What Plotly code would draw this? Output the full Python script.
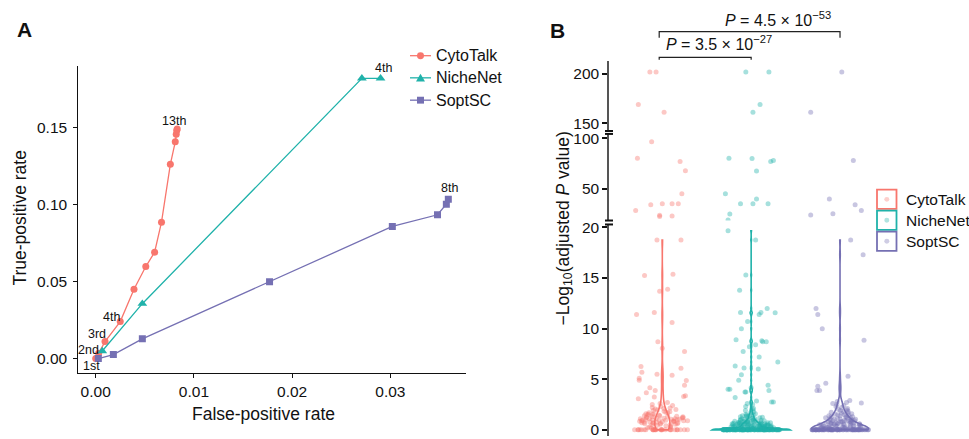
import plotly.graph_objects as go

W, H = 969, 439
OFF = 0  # page body margin is removed below
FONT = "Liberation Sans, Arial, sans-serif"

# ---------------- Panel A data (ROC-like curves) ----------------
cyto_fpr = [0.0, 0.0003, 0.00095, 0.0025, 0.0039, 0.0051, 0.0060, 0.0067, 0.0076, 0.0081, 0.0082, 0.00825, 0.0083]
cyto_tpr = [0.0, 0.0035, 0.011, 0.024, 0.045, 0.0597, 0.069, 0.0885, 0.126, 0.1406, 0.1455, 0.148, 0.149]
niche_fpr = [0.00067, 0.00475, 0.0271, 0.0290]
niche_tpr = [0.0049, 0.0356, 0.1818, 0.1818]
sopt_fpr = [0.00027, 0.0018, 0.00475, 0.0177, 0.0302, 0.0348, 0.0357, 0.0359]
sopt_tpr = [0.0, 0.0026, 0.0128, 0.0499, 0.0857, 0.0933, 0.1001, 0.1033]

x_ticks_A = [0.0, 0.01, 0.02, 0.03]
x_tick_text_A = ["0.00", "0.01", "0.02", "0.03"]
y_ticks_A = [0.0, 0.05, 0.10, 0.15]
y_tick_text_A = ["0.00", "0.05", "0.10", "0.15"]

methods = ["CytoTalk", "NicheNet", "SoptSC"]
colors = ["#F8766D", "#20B2AA", "#7570B3"]

# ---------------- Panel B data (-log10 adjusted P) ----------------
# sparse points: value and horizontal offset
cyto_hi_y = [202, 202, 169, 161.3, 96.5, 80.3, 77.1, 68.1, 45.5, 34.5, 35.5, 35.5, 35.5, 29, 24.2, 23, 23.5,
             18.76, 18.76, 15.26, 15.36, 13.7, 13.9, 11.6, 11.4, 10.6, 8.7, 8.07, 7.75, 6.27, 6.08, 5.7, 5.5,
             5.4, 5.1, 4.9, 4.87, 4.4, 4.15, 3.9, 3.66, 3.3, 3.08, 3.25, 3.37]
cyto_hi_dx = [-0.14, -0.07, -0.27, 0.02, -0.12, -0.28, 0.20, 0.26, 0.22, -0.13, 0.0, 0.11, 0.18, -0.30, -0.03, -0.03, 0.11,
              -0.06, 0.21, -0.20, 0.12, -0.03, 0.06, -0.09, -0.29, 0.11, -0.05, 0.0, 0.25, -0.24, 0.21, -0.23, -0.06,
              0.11, -0.26, -0.26, 0.27, 0.25, -0.14, -0.08, -0.18, 0.24, -0.27, -0.09, 0.26]
niche_hi_y = [202, 202, 169, 161.3, 80.3, 80, 77.1, 78, 67.7, 45.5, 35.5, 35.5, 35.5, 40.3, 25.5,
              19.67, 18.76, 15.3, 13.8, 11.6, 10.0, 10.7, 11.4, 11.6, 12.0, 11.57, 8.9, 8.2, 8.4, 8.8, 8.7, 8.7,
              7.75, 7.2, 6.7, 6.3, 6.1, 6.0, 5.45, 4.9, 4.4, 4.15, 4.0, 4.0, 3.75, 3.75, 3.9, 3.2, 2.85, 2.75, 2.75]
niche_hi_dx = [-0.06, 0.20, 0.10, 0.02, -0.25, 0.01, 0.22, 0.25, 0.06, -0.29, -0.12, 0.02, 0.19, 0.06, -0.24,
               -0.26, 0.05, -0.06, -0.13, -0.12, -0.11, -0.04, 0.09, 0.11, 0.18, 0.27, -0.17, -0.02, 0.05, 0.12, 0.13, 0.17,
               -0.09, 0.09, 0.30, -0.18, -0.08, 0.08, -0.11, -0.14, 0.19, 0.0, -0.26, -0.24, -0.07, -0.06, 0.20, -0.18, 0.06, 0.23, 0.25]
sopt_hi_y = [202, 161.3, 78, 40.3, 34.5, 29, 25.8, 24.4,
             18.76, 17.3, 12.0, 11.4, 10.0, 8.85, 5.3, 4.6, 4.3, 3.9, 3.9, 2.9, 2.65]
sopt_hi_dx = [0.02, -0.33, 0.15, -0.12, 0.17, 0.24, -0.08, -0.33,
              0.12, 0.26, -0.27, -0.25, -0.20, 0.27, 0.09, -0.16, -0.25, -0.26, -0.23, 0.11, 0.24]

# dense cluster near zero (horizontal spread drawn by the library's jitter)
cyto_low = [0, 0, 0, 0, 0, 0, 0, 0, 0, 0, 0, 0, 0, 0, 0, 0, 0, 0, 0, 0, 0, 0, 0, 0, 0, 0, 0, 0,
            0.9, 1.4, 0.6, 1.1, 2.1, 0.8, 1.7, 0.35, 1.2, 0.95, 2.4, 0.7, 1.05, 1.55, 0.5, 1.9, 0.85, 1.3,
            0.65, 2.2, 1.0, 0.45, 1.6, 0.75, 1.15, 2.6, 0.9, 1.35, 0.55, 1.8, 1.25, 0.3, 0.95, 2.0, 1.45,
            0.8, 1.1, 0.6, 1.7, 2.3, 0.4, 1.0, 1.5, 0.7, 1.2, 0.9, 2.5, 1.35, 0.25, 1.85, 0.65, 1.05, 1.6,
            0.85, 2.15, 1.15, 0.5, 1.4, 0.75, 1.95, 0.2, 1.3, 0.95, 2.7, 1.0, 0.55, 1.75, 0.8, 1.2, 0.15,
            1.5, 0.7, 2.05, 1.1, 0.9]
niche_low = [0, 0, 0, 0, 0, 0, 0, 0, 0, 0, 0, 0, 0, 0, 0, 0, 0, 0, 0, 0, 0, 0, 0, 0, 0, 0, 0, 0, 0, 0,
             0, 0, 0, 0, 0, 0, 0, 0, 0, 0, 0, 0, 0, 0, 0, 0, 0, 0, 0, 0, 0, 0, 0, 0, 0, 0, 0, 0, 0, 0,
             0, 0, 0, 0, 0, 0, 0, 0, 0, 0, 0, 0, 0, 0, 0, 0, 0, 0, 0, 0, 0, 0, 0, 0, 0, 0, 0, 0, 0, 0,
             0, 0, 0, 0, 0, 0, 0, 0, 0, 0, 0, 0, 0, 0, 0, 0, 0, 0, 0, 0, 0, 0, 0, 0, 0, 0, 0, 0, 0, 0,
             0.1, 0.6, 0.25, 1.2, 0.4, 0.8, 0.15, 1.5, 0.5, 0.3, 0.7, 1.0, 0.2, 0.45, 1.3, 0.35, 0.9, 0.6,
             0.1, 1.8, 0.55, 0.25, 0.75, 1.1, 0.4, 0.15, 0.65, 2.0, 0.3, 0.85, 0.5, 1.4, 0.2, 0.7, 0.95,
             0.35, 1.25, 0.45, 0.1, 0.6, 1.6, 0.3, 0.8, 0.55, 0.2, 1.05, 0.4, 2.3, 0.7, 0.25, 0.9, 0.5,
             1.35, 0.15, 0.65, 0.35, 1.15, 0.45, 0.75, 0.2, 1.7, 0.55, 0.3, 1.0, 0.6, 0.1, 0.85, 0.4, 2.5,
             0.5, 1.2, 0.25, 0.7, 0.35, 1.45, 0.6, 0.15, 0.95, 0.45, 0.3, 1.9, 0.8, 0.2, 0.55, 1.1, 0.4,
             0.65, 2.1, 0.3, 0.75, 0.5, 1.3, 0.25, 0.9, 0.45, 0.6, 1.55, 0.35, 0.2, 1.0, 0.7, 2.6, 0.4,
             0.85, 0.55, 1.4, 0.15, 0.3]
sopt_low = [0, 0, 0, 0, 0, 0, 0, 0, 0, 0, 0, 0, 0, 0, 0, 0, 0, 0, 0, 0, 0, 0, 0, 0, 0, 0, 0, 0, 0, 0,
            0, 0, 0, 0, 0, 0, 0, 0, 0, 0, 0, 0, 0, 0, 0, 0, 0, 0, 0, 0, 0, 0, 0, 0, 0, 0, 0, 0, 0, 0,
            0, 0, 0, 0, 0, 0, 0, 0, 0, 0, 0, 0, 0, 0, 0, 0, 0, 0, 0, 0,
            0.3, 1.1, 0.6, 1.8, 0.2, 0.9, 1.4, 0.45, 2.2, 0.7, 0.15, 1.2, 0.55, 1.6, 0.35, 0.85, 2.6, 0.25,
            1.0, 0.65, 1.35, 0.4, 1.9, 0.1, 0.75, 1.15, 0.5, 2.4, 0.3, 0.95, 1.5, 0.6, 0.2, 1.25, 0.8, 1.7,
            0.45, 2.0, 0.35, 1.05, 0.7, 0.15, 1.45, 0.55, 2.7, 0.9, 0.25, 1.3, 0.65, 1.85, 0.4, 1.1, 0.5,
            2.3, 0.75, 0.1, 1.55, 0.3, 0.95, 0.6, 1.2, 2.1, 0.45, 0.85, 0.2, 1.4, 0.7, 1.65, 0.35, 1.0,
            2.5, 0.55, 0.15, 1.3, 0.8, 0.4, 1.75, 0.65, 1.1, 0.25, 2.8, 0.9, 0.5, 1.5, 0.3, 0.75, 1.95,
            0.6, 1.05, 0.2]

p_labels = ["<i>P</i> = 3.5 × 10<sup>−27</sup>", "<i>P</i> = 4.5 × 10<sup>−53</sup>"]
comparisons = [(0, 1), (0, 2)]


# ---------------- helpers: page pixel -> paper ----------------
def px_x(p):
    return (p - OFF) / W


def px_y(p):
    return 1 - (p - OFF) / H


fig = go.Figure()

# ---------------- Panel A traces ----------------
series_A = [
    ("CytoTalk", cyto_fpr, cyto_tpr, "circle", 7),
    ("NicheNet", niche_fpr, niche_tpr, "triangle-up", 8.5),
    ("SoptSC", sopt_fpr, sopt_tpr, "square", 7),
]
for (name, xs, ys, sym, ms), col in zip(series_A, colors):
    fig.add_trace(go.Scatter(
        x=xs, y=ys, mode="lines+markers", name=name,
        line=dict(color=col, width=1.3),
        marker=dict(symbol=sym, size=ms, color=col),
        xaxis="x", yaxis="y", hoverinfo="skip", showlegend=False))

# ---------------- Panel B traces ----------------
segments = [
    ("y2", 222, 437, [-0.61, 20.29], [0, 5, 10, 15, 20]),
    ("y3", 130, 218, [19.05, 104.2], [50, 100]),
    ("y4", 56, 127, [142.3, 212.9], [150, 200]),
]

hi_y = [cyto_hi_y, niche_hi_y, sopt_hi_y]
hi_dx = [cyto_hi_dx, niche_hi_dx, sopt_hi_dx]
low = [cyto_low, niche_low, sopt_low]
violin_w = [0.17, 0.88, 0.64]
violin_bw = [0.55, 0.12, 0.4]

for i, col in enumerate(colors):
    lo_r, hi_r = segments[0][3]
    bottom_vals = low[i] + [v for v in hi_y[i] if v <= hi_r]
    fig.add_trace(go.Box(
        y=low[i], x0=i, xaxis="x2", yaxis="y2", boxpoints="all", jitter=1, pointpos=0,
        width=0.64, fillcolor="rgba(0,0,0,0)", line=dict(width=0, color="rgba(0,0,0,0)"),
        marker=dict(color=col, size=5, opacity=0.4), showlegend=False, hoverinfo="skip"))
    for axid, _, _, rng, _ in segments:
        ys = [v for v in hi_y[i] if rng[0] <= v <= rng[1]]
        xs = [i + d for v, d in zip(hi_y[i], hi_dx[i]) if rng[0] <= v <= rng[1]]
        fig.add_trace(go.Scatter(
            x=xs, y=ys, mode="markers", xaxis="x2", yaxis=axid,
            marker=dict(color=col, size=5, opacity=0.4), showlegend=False, hoverinfo="skip"))
    fig.add_trace(go.Violin(
        y=bottom_vals, x0=i, xaxis="x2", yaxis="y2", width=violin_w[i],
        scalemode="width", spanmode="hard", bandwidth=violin_bw[i], points=False,
        fillcolor="rgba(0,0,0,0)", line=dict(color=col, width=1.6),
        showlegend=False, hoverinfo="skip", box_visible=False, meanline_visible=False))

# ---------------- layout ----------------
tickfont = dict(family=FONT, size=15.5, color="#111111")
layout = dict(
    width=W, height=H, margin=dict(l=0, r=0, t=0, b=0),
    paper_bgcolor="white", plot_bgcolor="rgba(0,0,0,0)",
    font=dict(family=FONT, color="#111111"),
    xaxis=dict(domain=[px_x(78.3), px_x(466)], range=[-0.00177, 0.0377], anchor="y",
               showline=True, linecolor="#111111", linewidth=1.1, ticks="outside", ticklen=4,
               tickcolor="#111111", tickvals=x_ticks_A, ticktext=x_tick_text_A, tickfont=tickfont,
               showgrid=False, zeroline=False),
    yaxis=dict(domain=[px_y(373.3), px_y(60.7)], range=[-0.0096, 0.190], anchor="x",
               showline=True, linecolor="#111111", linewidth=1.1, ticks="outside", ticklen=4,
               tickcolor="#111111", tickvals=y_ticks_A, ticktext=y_tick_text_A, tickfont=tickfont,
               showgrid=False, zeroline=False, ticklabelstandoff=3),
    xaxis2=dict(domain=[px_x(609), px_x(880)], range=[-0.6, 2.45], anchor="y2", type="linear",
                showline=False, showticklabels=False, ticks="", showgrid=False, zeroline=False),
    showlegend=False,
    hovermode=False,
)
for axid, ptop, pbot, rng, tks in segments:
    key = "yaxis" + axid[1:]
    layout[key] = dict(domain=[px_y(pbot), px_y(ptop)], range=rng, anchor="x2",
                       showline=True, linecolor="#555555", linewidth=1.5, ticks="outside",
                       ticklen=5, tickwidth=2, tickcolor="#111111", tickvals=tks, tickfont=tickfont,
                       showgrid=False, zeroline=False)
fig.update_layout(**layout)

# break marks on the broken axis
for _, ptop, pbot, _, _ in segments:
    for p in (ptop, pbot):
        if p in (56, 437):
            continue
        fig.add_shape(type="line", xref="paper", yref="paper",
                      x0=px_x(605), x1=px_x(613), y0=px_y(p), y1=px_y(p),
                      line=dict(color="#111111", width=2))

# significance brackets
bracket_rows = [(52.3, 54.6), (26, 32.3)]
for (a, b), (yh, yl) in zip(comparisons, bracket_rows):
    fig.add_shape(type="path", xref="x2", yref="paper",
                  path=f"M {a - 0.035},{px_y(yl)} L {a - 0.035},{px_y(yh)} L {b},{px_y(yh)} L {b},{px_y(yl)}",
                  line=dict(color="#222222", width=1.2))

annotations = []
p_pos = [(1.7, 38), (60.4, 13)]
for (a, b), txt, (xs, yp) in zip(comparisons, p_labels, p_pos):
    annotations.append(dict(x=a, xref="x2", y=px_y(yp), yref="paper", text=txt, showarrow=False,
                            xanchor="left", yanchor="middle", xshift=xs,
                            font=dict(family=FONT, size=16, color="#111111")))

# rank labels in panel A
rank_labels = [
    (cyto_fpr, cyto_tpr, 0, "1st", -4, -7.7),
    (cyto_fpr, cyto_tpr, 1, "2nd", -10.3, 3.5),
    (cyto_fpr, cyto_tpr, 2, "3rd", -7.7, 7.8),
    (cyto_fpr, cyto_tpr, 3, "4th", -8.5, 4.1),
    (cyto_fpr, cyto_tpr, 12, "13th", -3.2, 8),
    (niche_fpr, niche_tpr, 3, "4th", 2.8, 10),
    (sopt_fpr, sopt_tpr, 7, "8th", 1.1, 11),
]
for xs, ys, k, txt, dx, dy in rank_labels:
    annotations.append(dict(x=xs[k], y=ys[k], xref="x", yref="y", text=txt, showarrow=False,
                            xshift=dx, yshift=dy, xanchor="center", yanchor="middle",
                            font=dict(family=FONT, size=12.5, color="#111111")))


def label(x, y, text, size, angle=0, anchor="center"):
    return dict(x=px_x(x), y=px_y(y), xref="paper", yref="paper", text=text, textangle=angle,
                showarrow=False, xanchor=anchor, yanchor="middle",
                font=dict(family=FONT, size=size, color="#111111"))


annotations += [
    label(263, 415, "False-positive rate", 17.5),
    label(20, 215, "True-positive rate", 17.5, -90),
    label(564, 226, "−Log<sub>10</sub>(adjusted <i>P</i> value)", 17.5, -90),
    label(24, 24, "<b>A</b>", 21),
    label(557.5, 25, "<b>B</b>", 21),
]

# legend for panel A (line + marker keys)
leg_rows_A = [50.5, 73, 95.7]
for name, col, yc, (_, _, _, sym, ms) in zip(methods, colors, leg_rows_A, series_A):
    fig.add_shape(type="line", xref="paper", yref="paper", x0=px_x(410), x1=px_x(431),
                  y0=px_y(yc), y1=px_y(yc), line=dict(color=col, width=1.3))
    cx = 420.5
    if sym == "circle":
        fig.add_shape(type="circle", xref="paper", yref="paper", x0=px_x(cx - 3.5), x1=px_x(cx + 3.5),
                      y0=px_y(yc + 3.5), y1=px_y(yc - 3.5), line=dict(width=0), fillcolor=col)
    elif sym == "square":
        fig.add_shape(type="rect", xref="paper", yref="paper", x0=px_x(cx - 3.5), x1=px_x(cx + 3.5),
                      y0=px_y(yc + 3.5), y1=px_y(yc - 3.5), line=dict(width=0), fillcolor=col)
    else:
        fig.add_shape(type="path", xref="paper", yref="paper",
                      path=f"M {px_x(cx - 4.5)},{px_y(yc + 3.8)} L {px_x(cx + 4.5)},{px_y(yc + 3.8)} "
                           f"L {px_x(cx)},{px_y(yc - 4.2)} Z",
                      line=dict(width=0), fillcolor=col)
    annotations.append(label(433.5, yc, name, 16, anchor="left"))

# legend for panel B (boxed keys)
leg_tops = [186.7, 208.0, 229.3]
for name, col, top in zip(methods, colors, leg_tops):
    fig.add_shape(type="rect", xref="paper", yref="paper",
                  x0=px_x(877), x1=px_x(896.5), y0=px_y(top + 19.5), y1=px_y(top),
                  line=dict(color=col, width=1.8), fillcolor="white")
    fig.add_shape(type="circle", xref="paper", yref="paper",
                  x0=px_x(884.3), x1=px_x(889.3), y0=px_y(top + 12.3), y1=px_y(top + 7.3),
                  line=dict(width=0), fillcolor=col, opacity=0.35)
    annotations.append(label(903.5, top + 10, name, 15.5, anchor="left"))

fig.update_layout(annotations=annotations)
fig.write_html(
    "out.html",
    config={"displayModeBar": False},
    post_script="document.body.style.margin='0px';document.documentElement.style.overflow='hidden';",
)
